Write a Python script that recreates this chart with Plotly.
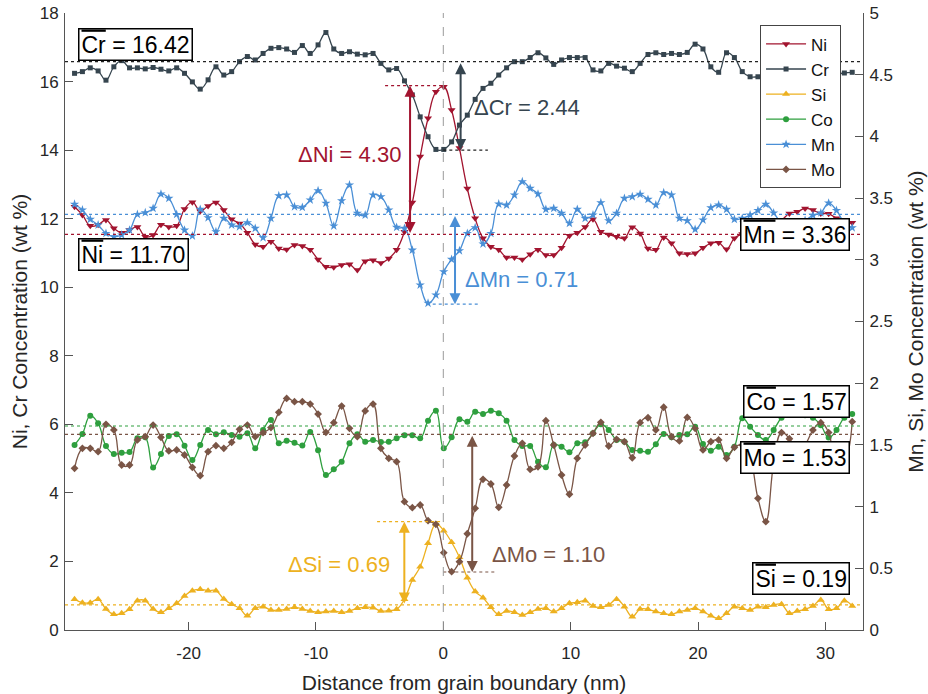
import plotly.graph_objects as go

# sampling positions (nm) along the profile
distance = [round(-28.95 + 0.6167 * i, 3) for i in range(100)]

ni = [12.35,12.11,11.79,11.82,11.96,11.72,11.59,11.67,11.76,11.47,
      11.52,11.82,11.76,11.79,12.28,12.48,12.22,12.37,12.47,12.25,
      11.98,11.86,11.59,11.25,11.18,11.33,11.13,11.10,11.23,11.20,
      11.09,10.81,10.60,10.58,10.65,10.67,10.50,10.76,10.79,10.71,
      10.84,11.09,11.62,12.47,13.81,14.93,15.70,15.85,15.17,14.06,
      12.88,12.01,11.43,11.18,11.09,10.87,10.87,10.81,10.96,11.09,
      10.94,10.94,11.15,11.50,11.59,11.76,11.98,11.62,11.54,11.47,
      11.43,11.75,11.57,11.13,11.09,11.45,11.28,10.99,10.97,10.99,
      11.15,11.28,11.30,11.11,11.43,11.55,11.60,11.62,11.70,11.80,
      11.95,12.15,12.20,12.30,12.25,12.15,12.14,12.01,11.88,11.88]

cr = [16.24,16.29,16.40,16.31,16.04,16.43,16.61,16.40,16.40,16.37,
      16.41,16.36,16.31,16.40,16.24,15.99,15.78,16.05,16.43,16.19,
      16.29,16.58,16.73,16.63,16.82,16.97,16.99,16.95,16.85,17.05,
      16.82,17.07,17.43,16.95,16.82,16.87,16.80,16.78,16.82,16.53,
      16.34,16.38,16.02,15.61,14.97,14.39,14.02,14.02,14.24,14.73,
      15.02,15.48,15.80,15.95,16.19,16.40,16.58,16.58,16.70,16.84,
      16.69,16.50,16.63,16.70,16.70,16.70,16.34,16.31,16.53,16.45,
      16.39,16.29,16.53,16.79,16.84,16.79,16.82,16.79,16.85,17.09,
      16.95,16.43,16.27,16.84,16.70,16.29,16.14,16.14,16.15,16.20,
      16.25,16.22,16.18,16.20,16.25,16.22,16.20,16.22,16.25,16.27]

si = [0.249,0.221,0.221,0.249,0.170,0.127,0.135,0.168,0.238,0.238,
      0.170,0.143,0.176,0.216,0.276,0.319,0.330,0.319,0.319,0.251,
      0.208,0.176,0.116,0.176,0.189,0.162,0.162,0.170,0.184,0.170,
      0.154,0.143,0.149,0.154,0.143,0.154,0.176,0.184,0.181,0.154,
      0.157,0.168,0.249,0.405,0.513,0.703,0.859,0.805,0.711,0.589,
      0.424,0.311,0.262,0.184,0.127,0.154,0.143,0.122,0.143,0.170,
      0.176,0.149,0.176,0.216,0.224,0.238,0.194,0.184,0.203,0.249,
      0.189,0.108,0.170,0.168,0.149,0.135,0.127,0.149,0.162,0.176,
      0.149,0.116,0.095,0.135,0.189,0.176,0.162,0.189,0.184,0.203,
      0.208,0.135,0.154,0.168,0.194,0.243,0.168,0.176,0.238,0.194]

co = [1.499,1.588,1.737,1.675,1.491,1.426,1.437,1.442,1.553,1.561,
      1.316,1.426,1.572,1.586,1.494,1.378,1.499,1.621,1.586,1.602,
      1.580,1.567,1.594,1.472,1.621,1.702,1.513,1.534,1.518,1.496,
      1.605,1.456,1.256,1.302,1.364,1.513,1.586,1.526,1.540,1.523,
      1.526,1.553,1.578,1.578,1.553,1.696,1.777,1.472,1.561,1.707,
      1.688,1.769,1.750,1.777,1.756,1.696,1.540,1.491,1.491,1.364,
      1.318,1.499,1.486,1.440,1.513,1.521,1.594,1.667,1.621,1.540,
      1.526,1.459,1.453,1.445,1.505,1.588,1.561,1.580,1.586,1.648,
      1.507,1.453,1.486,1.418,1.486,1.716,1.648,1.580,1.540,1.620,
      1.720,1.760,1.750,1.740,1.720,1.660,1.560,1.620,1.720,1.750]

mn = [3.450,3.404,3.328,3.282,3.214,3.187,3.201,3.241,3.368,3.382,
      3.417,3.533,3.498,3.368,3.241,3.193,3.409,3.341,3.228,3.336,
      3.282,3.268,3.301,3.255,3.179,3.336,3.519,3.525,3.430,3.425,
      3.485,3.560,3.458,3.274,3.479,3.606,3.377,3.363,3.525,3.511,
      3.404,3.263,3.255,3.079,2.796,2.648,2.715,2.904,3.004,3.074,
      3.214,3.260,3.128,3.214,3.452,3.444,3.525,3.633,3.579,3.533,
      3.409,3.417,3.377,3.296,3.409,3.336,3.363,3.463,3.317,3.377,
      3.498,3.511,3.531,3.490,3.444,3.544,3.525,3.336,3.317,3.247,
      3.323,3.422,3.444,3.409,3.328,3.336,3.363,3.400,3.450,3.380,
      3.300,3.280,3.300,3.320,3.360,3.380,3.460,3.400,3.300,3.260]

mo = [1.310,1.472,1.472,1.445,1.667,1.621,1.337,1.337,1.540,1.567,
      1.661,1.561,1.451,1.459,1.418,1.318,1.251,1.445,1.494,1.472,
      1.521,1.626,1.661,1.567,1.599,1.640,1.764,1.877,1.850,1.850,
      1.831,1.750,1.602,1.680,1.815,1.634,1.567,1.775,1.831,1.472,
      1.391,1.364,1.040,0.991,1.013,0.886,0.856,0.627,0.473,0.554,
      0.780,0.986,1.221,1.183,0.994,1.175,1.410,1.513,1.302,1.323,
      1.696,1.499,1.256,1.100,1.391,1.499,1.594,1.683,1.491,1.545,
      1.526,1.396,1.680,1.720,1.621,1.805,1.567,1.532,1.723,1.634,
      1.459,1.526,1.540,1.391,1.480,1.500,1.400,1.067,0.878,1.350,
      1.600,1.550,1.450,1.500,1.620,1.680,1.600,1.300,1.350,1.688]

# tick labels
x_ticks = [-20, -10, 0, 10, 20, 30]
x_ticklabels = ["-20", "-10", "0", "10", "20", "30"]
left_ticks = [0, 2, 4, 6, 8, 10, 12, 14, 16, 18]
right_ticks = [0, 0.5, 1, 1.5, 2, 2.5, 3, 3.5, 4, 4.5, 5]
right_ticklabels = ["0", "0.5", "1", "1.5", "2", "2.5", "3", "3.5", "4", "4.5", "5"]

# mean levels (dotted lines) and delta annotations
mean_left = {"Ni": 11.54, "Cr": 16.58}
mean_right = {"Mn": 3.368, "Co": 1.653, "Mo": 1.586, "Si": 0.203}
ni_peak, cr_min = 15.88, 14.0
mn_min, si_peak, mo_min = 2.64, 0.878, 0.47

colors = {"Ni": "#A2142F", "Cr": "#36454F", "Si": "#EDB120",
          "Co": "#2E9F3E", "Mn": "#4A8FD6", "Mo": "#7A5546"}
FONT = "Liberation Sans, Arial, sans-serif"

fig = go.Figure()

def add(name, y, symbol, size, axis):
    fig.add_trace(go.Scatter(
        x=distance, y=y, name=name, mode="lines+markers", yaxis=axis,
        line=dict(color=colors[name], width=1.3, shape="spline", smoothing=1.2),
        marker=dict(symbol=symbol, size=size, color=colors[name])))

add("Ni", ni, "triangle-down", 7, "y")
add("Cr", cr, "square", 5, "y")
add("Si", si, "triangle-up", 7, "y2")
add("Co", co, "circle", 6, "y2")
add("Mn", mn, "star", 7, "y2")
add("Mo", mo, "diamond", 6, "y2")

XMIN, XMAX = -29.7, 32.95
shapes = []
for k, v in mean_left.items():
    shapes.append(dict(type="line", xref="x", yref="y", x0=XMIN, x1=XMAX, y0=v, y1=v,
                       line=dict(color=colors[k] if k != "Cr" else "#222", width=1.2, dash="dot")))
for k, v in mean_right.items():
    shapes.append(dict(type="line", xref="x", yref="y2", x0=XMIN, x1=XMAX, y0=v, y1=v,
                       line=dict(color=colors[k], width=1.2, dash="dot")))
# short reference lines at extrema
shapes += [
    dict(type="line", xref="x", yref="y", x0=-4.57, x1=0, y0=ni_peak, y1=ni_peak,
         line=dict(color=colors["Ni"], width=1.2, dash="dot")),
    dict(type="line", xref="x", yref="y", x0=0, x1=3.5, y0=cr_min, y1=cr_min,
         line=dict(color="#222", width=1.2, dash="dot")),
    dict(type="line", xref="x", yref="y2", x0=-1.3, x1=2.9, y0=mn_min, y1=mn_min,
         line=dict(color=colors["Mn"], width=1.2, dash="dot")),
    dict(type="line", xref="x", yref="y2", x0=-5.2, x1=0, y0=si_peak, y1=si_peak,
         line=dict(color=colors["Si"], width=1.2, dash="dot")),
    dict(type="line", xref="x", yref="y2", x0=0, x1=4.05, y0=mo_min, y1=mo_min,
         line=dict(color=colors["Mo"], width=1.2, dash="dot")),
    dict(type="line", xref="x", yref="paper", x0=0, x1=0, y0=0, y1=1,
         line=dict(color="#9a9a9a", width=1, dash="dash")),
]
fig.update_layout(shapes=shapes)

ann = []
def arrow(xpos, y0, y1, col, yref):
    ann.append(dict(x=xpos, y=y1, ax=xpos, ay=y0, xref="x", yref=yref, axref="x", ayref=yref,
                    text="", showarrow=True, arrowhead=2, arrowside="end+start",
                    arrowsize=1.1, arrowwidth=2, arrowcolor=col, standoff=0, startstandoff=0))

arrow(-2.61, mean_left["Ni"], ni_peak, colors["Ni"], "y")
arrow(1.36, mean_left["Cr"], cr_min, colors["Cr"], "y")
arrow(0.92, mean_right["Mn"], mn_min, colors["Mn"], "y2")
arrow(-3.06, mean_right["Si"], si_peak, colors["Si"], "y2")
arrow(2.27, mean_right["Mo"], mo_min, colors["Mo"], "y2")

def label(text, xpos, ypos, anchor, col, yref):
    ann.append(dict(x=xpos, y=ypos, xref="x", yref=yref, text=text, showarrow=False,
                    xanchor=anchor, yanchor="middle", font=dict(family=FONT, size=22, color=col)))

label("ΔNi = 4.30", -3.15, 13.86, "right", colors["Ni"], "y")
label("ΔCr = 2.44", 2.25, 15.24, "left", colors["Cr"], "y")
label("ΔMn = 0.71", 1.55, 2.84, "left", colors["Mn"], "y2")
label("ΔSi = 0.69", -4.02, 0.527, "right", colors["Si"], "y2")
label("ΔMo = 1.10", 3.66, 0.608, "left", colors["Mo"], "y2")

def box(sym, val, xpos, ypos, anchor, yref):
    ann.append(dict(x=xpos, y=ypos, xref="x", yref=yref,
                    text='<span style="text-decoration:overline">%s</span> = %s' % (sym, val),
                    showarrow=False, xanchor=anchor, yanchor="middle",
                    font=dict(family=FONT, size=23, color="#000"),
                    bgcolor="white", bordercolor="#000", borderwidth=1.5, borderpad=2))

box("Cr", "16.42", -28.65, 17.08, "left", "y")
box("Ni", "11.70", -28.65, 10.95, "left", "y")
box("Mn", "3.36", 31.9, 3.209, "right", "y2")
box("Co", "1.57", 31.9, 1.852, "right", "y2")
box("Mo", "1.53", 31.9, 1.398, "right", "y2")
box("Si", "0.19", 31.9, 0.421, "right", "y2")

fig.update_layout(annotations=ann)

axis_common = dict(showline=True, linecolor="#555", linewidth=1, ticks="inside", ticklen=8,
                   tickcolor="#555", showgrid=False, zeroline=False, automargin=False,
                   tickfont=dict(family=FONT, size=17, color="#262626"))

fig.update_layout(
    width=928, height=694,
    margin=dict(l=65, r=65, t=13, b=64, autoexpand=False),
    plot_bgcolor="white", paper_bgcolor="white",
    font=dict(family=FONT, color="#262626"),
    xaxis=dict(range=[XMIN, XMAX], tickvals=x_ticks, ticktext=x_ticklabels, ticklabelstandoff=8,
               title=dict(text="Distance from grain boundary (nm)", font=dict(size=21), standoff=14),
               **axis_common),
    yaxis=dict(range=[0, 18], tickvals=left_ticks, ticklabelstandoff=2,
               title=dict(text="Ni, Cr Concentration (wt %)", font=dict(size=21), standoff=6),
               **axis_common),
    yaxis2=dict(range=[0, 5], tickvals=right_ticks, ticktext=right_ticklabels,
                overlaying="y", side="right", ticklabelstandoff=2,
                title=dict(text="Mn, Si, Mo Concentration (wt %)", font=dict(size=21), standoff=16),
                **axis_common),
    legend=dict(x=0.871, y=0.98, xanchor="left", yanchor="top", bgcolor="white",
                bordercolor="#444", borderwidth=1, font=dict(family=FONT, size=17, color="#111"),
                itemwidth=40),
    showlegend=True,
)

fig.write_html("out.html", config={"displayModeBar": False},
               post_script="document.body.style.margin='0px';document.body.style.overflow='hidden';")
